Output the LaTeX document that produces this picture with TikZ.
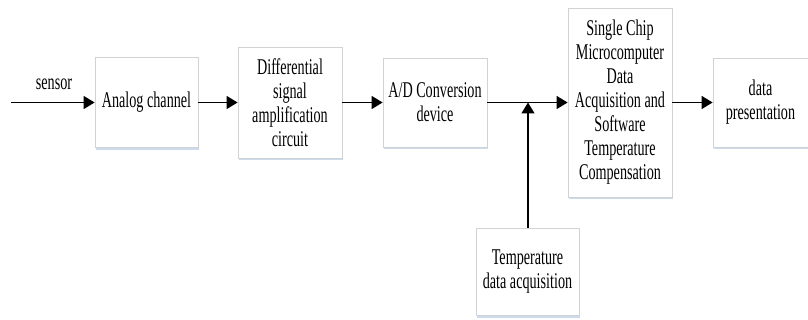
\documentclass[tikz,border=0pt]{standalone}
\usepackage{fontspec}
\setmainfont{Liberation Serif}
\newfontfamily\boxfont[FakeStretch=0.63]{Liberation Serif}
\usetikzlibrary{arrows.meta,shadows}
\definecolor{boxline}{HTML}{D2D2D2}
\definecolor{shadowblue}{HTML}{CCDAEE}
\tikzset{
  blk/.style={draw=boxline, line width=0.8pt, fill=white, align=center, inner sep=0pt,
    font=\boxfont\fontsize{22.5}{24}\selectfont,
    general shadow={fill=shadowblue, shadow xshift=1.2pt, shadow yshift=-2.5pt}},
  arr/.style={line width=1.5pt, -{Triangle[length=11pt,width=13pt]}},
  lin/.style={line width=1.5pt}
}
\begin{document}
\begin{tikzpicture}[x=1pt,y=-1pt]
\useasboundingbox (0,0) rectangle (808,320);
\node[blk, minimum width=103pt, minimum height=90pt] (an) at (146.5,102.5) {Analog channel};
\node[blk, minimum width=104pt, minimum height=111pt] (df) at (290,102.5) {Differential\\signal\\amplification\\circuit};
\node[blk, minimum width=104pt, minimum height=89pt] (ad) at (435,102.5) {A/D Conversion\\device};
\node[blk, minimum width=104pt, minimum height=189pt] (sc) at (620,102.5) {Single Chip\\Microcomputer\\Data\\Acquisition and\\Software\\Temperature\\Compensation};
\node[blk, minimum width=95pt, minimum height=89pt] (dp) at (760.5,102.5) {data\\presentation};
\node[blk, minimum width=103pt, minimum height=87pt] (tp) at (527.5,271.5) {Temperature\\data acquisition};
\coordinate (src) at (11,102.5);
\coordinate (jn) at (528,102.5);
\node[font=\boxfont\fontsize{22.5}{24}\selectfont, inner sep=0pt, anchor=base] (lbl) at (54,90) {sensor};
\draw[arr] (src) -- (an.west);
\draw[arr] (an.east) -- (df.west);
\draw[arr] (df.east) -- (ad.west);
\draw[arr] (ad.east) -- (sc.west);
\draw[arr] (sc.east) -- (dp.west);
\draw[arr] (tp.north -| jn) -- (jn);
\end{tikzpicture}
\end{document}
